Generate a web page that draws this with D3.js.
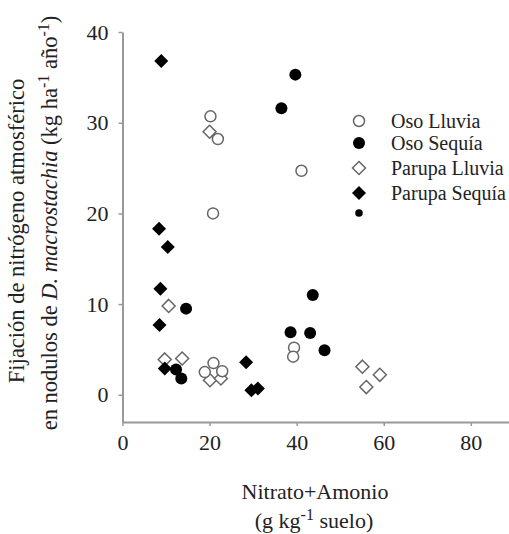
<!DOCTYPE html>
<meta charset='utf-8'>
<style>
body { margin: 0; background: #fff; }
text { font-family: 'Liberation Serif', 'Times New Roman', serif; fill: #222; }
.axis path, .axis line { stroke: #999; }
</style>
<svg width='509' height='534'></svg>
<script src='https://d3js.org/d3.v7.min.js'></script>
<script>

// data: [nitrato+amonio, fijacion]
var osoLluvia = [[20.2, 30.7], [21.9, 28.2], [20.8, 20.0], [41.1, 24.7], [20.9, 3.5],
                 [18.9, 2.5], [22.9, 2.6], [39.4, 5.2], [39.2, 4.2]];
var osoSequia = [[39.7, 35.3], [36.5, 31.6], [14.6, 9.5], [12.3, 2.8], [13.5, 1.8],
                 [43.7, 11.0], [38.6, 6.9], [43.1, 6.8], [46.4, 4.9]];
var parupaLluvia = [[20.0, 29.0], [10.6, 9.8], [13.7, 4.0], [9.7, 3.9], [20.1, 1.6],
                    [22.6, 1.8], [55.1, 3.1], [59.1, 2.2], [56.0, 0.85]];
var parupaSequia = [[8.9, 36.8], [8.4, 18.3], [10.4, 16.3], [8.7, 11.7], [8.5, 7.7],
                    [9.7, 2.9], [28.4, 3.6], [29.6, 0.5], [31.1, 0.7]];

var xTicks = [0, 20, 40, 60, 80];
var yTicks = [0, 10, 20, 30, 40];
var legendLabels = ['Oso Lluvia', 'Oso Sequía', 'Parupa Lluvia', 'Parupa Sequía'];

var svg = d3.select('svg');

var x = d3.scaleLinear().domain([0, 89]).range([122.5, 510]);
var y = d3.scaleLinear().domain([-3, 40]).range([422, 32]);

// axes
svg.append('g')
    .attr('class', 'axis')
    .attr('transform', 'translate(0,' + y(-3) + ')')
    .call(d3.axisBottom(x).tickValues(xTicks).tickSize(4).tickSizeOuter(0).tickPadding(8))
    .call(g => g.select('.domain').attr('stroke-width', 2))
    .call(g => g.selectAll('.tick line').attr('stroke-width', 1.5))
    .call(g => g.selectAll('.tick text').attr('font-size', 22).attr('font-family', 'Liberation Serif').attr('fill', '#222'));

svg.append('g')
    .attr('class', 'axis')
    .attr('transform', 'translate(' + x(0) + ',0)')
    .call(d3.axisLeft(y).tickValues(yTicks).tickSize(4).tickSizeOuter(0).tickPadding(10))
    .call(g => g.select('.domain').attr('stroke-width', 2))
    .call(g => g.selectAll('.tick line').attr('stroke-width', 1.5))
    .call(g => g.selectAll('.tick text').attr('font-size', 22).attr('font-family', 'Liberation Serif').attr('fill', '#222'));

// marker shapes
var diamond = function(s) { return 'M0,' + -s + 'L' + s + ',0L0,' + s + 'L' + -s + ',0Z'; };

function drawSeries(data, kind, filled) {
  var g = svg.append('g');
  var sel = g.selectAll('.m').data(data).enter();
  if (kind === 'circle') {
    sel.append('circle')
        .attr('cx', d => x(d[0]))
        .attr('cy', d => y(d[1]))
        .attr('r', filled ? 6 : 5.5)
        .attr('fill', filled ? '#000' : '#fff')
        .attr('stroke', filled ? '#000' : '#666')
        .attr('stroke-width', filled ? 0 : 1.5);
  } else {
    sel.append('path')
        .attr('d', diamond(filled ? 7 : 6.5))
        .attr('transform', d => 'translate(' + x(d[0]) + ',' + y(d[1]) + ')')
        .attr('fill', filled ? '#000' : '#fff')
        .attr('stroke', filled ? '#000' : '#666')
        .attr('stroke-width', filled ? 0 : 1.5);
  }
}

drawSeries(parupaLluvia, 'diamond', false);
drawSeries(osoLluvia, 'circle', false);
drawSeries(parupaSequia, 'diamond', true);
drawSeries(osoSequia, 'circle', true);

// legend
var legendY = [121, 143, 168, 193];
var legendKinds = [['circle', false], ['circle', true], ['diamond', false], ['diamond', true]];
var lg = svg.append('g');
legendLabels.forEach(function(label, i) {
  var k = legendKinds[i];
  if (k[0] === 'circle') {
    lg.append('circle').attr('cx', 359).attr('cy', legendY[i]).attr('r', k[1] ? 6 : 5.5)
      .attr('fill', k[1] ? '#000' : '#fff').attr('stroke', k[1] ? '#000' : '#666')
      .attr('stroke-width', k[1] ? 0 : 1.5);
  } else {
    lg.append('path').attr('d', diamond(k[1] ? 7 : 6.5))
      .attr('transform', 'translate(359,' + legendY[i] + ')')
      .attr('fill', k[1] ? '#000' : '#fff').attr('stroke', k[1] ? '#000' : '#666')
      .attr('stroke-width', k[1] ? 0 : 1.5);
  }
  lg.append('text').attr('x', 391).attr('y', legendY[i]).attr('dy', '0.35em')
    .attr('font-size', 20).text(label);
});
// stray dot under the legend
lg.append('circle').attr('cx', 359).attr('cy', 213).attr('r', 3.8).attr('fill', '#000');

// x axis title
svg.append('text').attr('x', 315).attr('y', 499).attr('text-anchor', 'middle')
    .attr('font-size', 22).text('Nitrato+Amonio');
var t2 = svg.append('text').attr('x', 314).attr('y', 528).attr('text-anchor', 'middle')
    .attr('font-size', 22);
t2.append('tspan').text('(g kg');
t2.append('tspan').attr('dy', -8).attr('font-size', 16).text('-1');
t2.append('tspan').attr('dy', 8).text(' suelo)');

// y axis title
var yt = svg.append('g').attr('transform', 'rotate(-90)');
yt.append('text').attr('x', -231).attr('y', 24).attr('text-anchor', 'middle')
    .attr('font-size', 22.5).text('Fijación de nitrógeno atmosférico');
var l2 = yt.append('text').attr('x', -223).attr('y', 57).attr('text-anchor', 'middle')
    .attr('font-size', 22.5);
l2.append('tspan').text('en nodulos de ');
l2.append('tspan').attr('font-style', 'italic').text('D. macrostachia');
l2.append('tspan').text(' (kg ha');
l2.append('tspan').attr('dy', -8).attr('font-size', 16).text('-1');
l2.append('tspan').attr('dy', 8).text(' año');
l2.append('tspan').attr('dy', -8).attr('font-size', 16).text('-1');
l2.append('tspan').attr('dy', 8).text(')');

</script>
